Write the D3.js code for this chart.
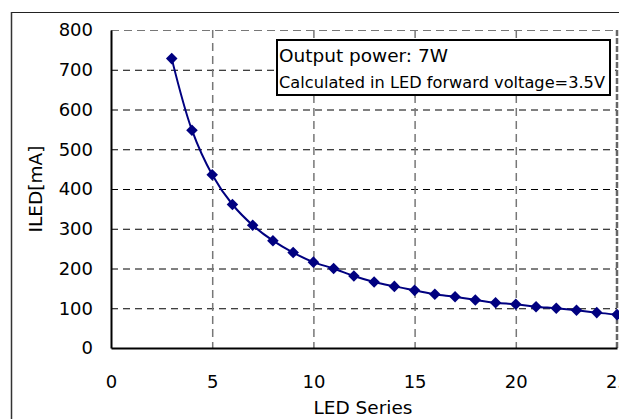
<!DOCTYPE html>
<html>
<head>
<meta charset="utf-8">
<script src="https://cdn.jsdelivr.net/npm/d3@7"></script>
<style>
  body { margin: 0; background: #fff; }
  svg { display: block; font-family: "DejaVu Sans", "Liberation Sans", Arial, sans-serif; }
</style>
</head>
<body>
<svg id="chart" width="619" height="419"></svg>
<script>
// LED series count vs. LED current
const ledSeries = [3, 4, 5, 6, 7, 8, 9, 10, 11, 12, 13, 14, 15, 16, 17, 18, 19, 20, 21, 22, 23, 24, 25];
const iledValues = [728, 548, 436, 361, 309, 270, 240, 216, 200, 181, 166, 155, 145, 135, 129, 121, 114, 110, 104, 100, 95, 89, 84];
const xTicks = [0, 5, 10, 15, 20, 25];
const yTicks = [0, 100, 200, 300, 400, 500, 600, 700, 800];
const noteLines = ["Output power: 7W", "Calculated in LED forward voltage=3.5V"];

const svg = d3.select("#chart");
const plotL = 111, plotR = 617, plotT = 30, plotB = 348;

const x = d3.scaleLinear().domain([0, 25]).range([plotL, plotR]);
const y = d3.scaleLinear().domain([0, 800]).range([plotB, plotT]);

// outer chart frame (only top and left visible)
svg.append("line").attr("x1", 11).attr("x2", 619).attr("y1", 12.5).attr("y2", 12.5)
  .attr("stroke", "#222").attr("stroke-width", 1.2);
svg.append("line").attr("x1", 11.5).attr("x2", 11.5).attr("y1", 12).attr("y2", 419)
  .attr("stroke", "#333").attr("stroke-width", 1.5);

// horizontal grid lines
svg.append("g").selectAll("line")
  .data(yTicks.filter(d => d > 0 && d < 800))
  .join("line")
  .attr("x1", plotL).attr("x2", plotR)
  .attr("y1", d => y(d) + 0.5).attr("y2", d => y(d) + 0.5)
  .attr("stroke", "#000").attr("stroke-width", 1)
  .attr("stroke-dasharray", "7,5");

// vertical grid lines
svg.append("g").selectAll("line")
  .data(xTicks.filter(d => d > 0 && d < 25))
  .join("line")
  .attr("x1", d => x(d) + 0.5).attr("x2", d => x(d) + 0.5)
  .attr("y1", plotT).attr("y2", plotB)
  .attr("stroke", "#777").attr("stroke-width", 1.5)
  .attr("stroke-dasharray", "8,5");

// top and right plot edges (dashed)
svg.append("line").attr("x1", plotL).attr("x2", plotR).attr("y1", plotT + 0.5).attr("y2", plotT + 0.5)
  .attr("stroke", "#777").attr("stroke-width", 1).attr("stroke-dasharray", "8,5");
svg.append("line").attr("x1", plotR).attr("x2", plotR).attr("y1", plotT).attr("y2", plotB)
  .attr("stroke", "#666").attr("stroke-width", 2.5).attr("stroke-dasharray", "6,2");

// axes
const xAxis = svg.append("g").attr("transform", `translate(0,${plotB})`)
  .call(d3.axisBottom(x).tickValues(xTicks).tickSize(0).tickPadding(27));
const yAxis = svg.append("g").attr("transform", `translate(${plotL},0)`)
  .call(d3.axisLeft(y).tickValues(yTicks).tickSize(0).tickPadding(18));
[xAxis, yAxis].forEach(g => {
  g.select(".domain").attr("stroke", "#000").attr("stroke-width", 2);
  g.selectAll("text").attr("font-size", 18).attr("font-family", "DejaVu Sans").attr("fill", "#000");
});

// axis titles
svg.append("text").attr("x", 363).attr("y", 414).attr("text-anchor", "middle")
  .attr("font-size", 18.5).text("LED Series");
svg.append("text").attr("transform", "translate(42,189) rotate(-90)")
  .attr("text-anchor", "middle").attr("font-size", 18.5).text("ILED[mA]");

// series line
const pts = ledSeries.map((d, i) => [d, iledValues[i]]);
svg.append("path")
  .datum(pts)
  .attr("fill", "none")
  .attr("stroke", "#000080")
  .attr("stroke-width", 2)
  .attr("d", d3.line().x(d => x(d[0])).y(d => y(d[1])).curve(d3.curveCatmullRom));

// diamond markers
const diamond = d3.symbol().type(d3.symbolDiamond2).size(85);
svg.append("g").selectAll("path")
  .data(pts)
  .join("path")
  .attr("d", diamond)
  .attr("transform", d => `translate(${x(d[0])},${y(d[1])})`)
  .attr("fill", "#000080");

// note box
svg.append("rect").attr("x", 277).attr("y", 40).attr("width", 333).attr("height", 55)
  .attr("fill", "#fff").attr("stroke", "#000").attr("stroke-width", 2);
svg.append("text").attr("x", 279).attr("y", 62).attr("font-size", 18.5)
  .attr("textLength", 169).attr("lengthAdjust", "spacingAndGlyphs").text(noteLines[0]);
svg.append("text").attr("x", 279).attr("y", 88).attr("font-size", 15.5)
  .attr("textLength", 326).attr("lengthAdjust", "spacingAndGlyphs").text(noteLines[1]);
</script>
</body>
</html>
